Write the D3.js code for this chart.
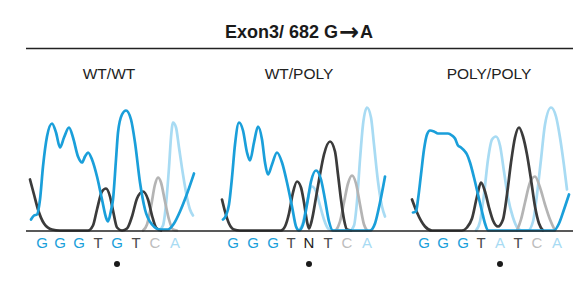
<!DOCTYPE html>
<html>
<head>
<meta charset="utf-8">
<script src="https://cdn.jsdelivr.net/npm/d3@7/dist/d3.min.js"></script>
<style>
html,body{margin:0;padding:0;background:#fff;}
svg{display:block;}
</style>
</head>
<body>
<svg id="chart" width="587" height="293"></svg>
<script>
// ---------- DATA ----------
const titleParts = ["Exon3/ 682 G", "\u2192", "A"];
const panelNames = ["WT/WT", "WT/POLY", "POLY/POLY"];
const baseCalls = [
  ["G","G","G","T","G","T","C","A"],
  ["G","G","G","T","N","T","C","A"],
  ["G","G","G","T","A","T","C","A"]
];
// scan position of each called base
const basePos = [
  [16,34,53,72,91,110,129,149],
  [17,37,57,75,93,112,131,151],
  [18,37,57,75,94,112,131,151]
];
const snpIndex = 4;

// traces: [scan position, signal]
const wtwtG = [[5,11],[8,15],[11,16],[14,31],[17,64],[21,94],[26,107],[30,98],[34,83],[38,93],[43,103],[47,93],[52,74],[56,68],[59,74],[62,78],[66,71],[71,54],[76,31],[80,13],[82,9],[85,20],[87,31],[90,71],[92,98],[96,116],[100,120],[105,111],[109,88],[114,48],[119,21],[126,6],[134,1],[142,1],[148,7],[154,19],[160,34],[168,57]];
const wtwtT = [[4,51],[8,36],[12,21],[18,7],[26,1],[34,0],[62,0],[67,5],[71,21],[76,39],[80,42],[84,34],[87,20],[91,3],[96,0],[101,2],[106,14],[111,32],[117,39],[122,31],[126,15],[130,3],[135,0]];
const wtwtC = [[117,0],[121,6],[125,24],[129,46],[132,53],[135,48],[139,29],[143,11],[147,1],[151,0]];
const wtwtA = [[133,0],[137,5],[140,26],[143,63],[145,93],[147,108],[150,103],[153,83],[157,56],[161,33],[164,21],[167,15]];

const wtpolyG = [[7,11],[10,15],[13,26],[16,53],[19,86],[23,108],[27,100],[31,78],[34,70],[38,88],[42,104],[46,91],[49,68],[52,56],[56,66],[61,78],[66,68],[71,48],[76,24],[80,4],[83,0],[87,6],[91,26],[95,49],[100,60],[105,51],[109,31],[113,9],[117,0],[154,0],[159,7],[164,28],[169,54]];
const wtpolyT = [[6,31],[9,19],[13,7],[18,1],[24,0],[65,0],[69,4],[73,17],[77,38],[81,49],[85,43],[88,28],[91,9],[93,2],[96,11],[100,33],[104,56],[108,76],[114,89],[119,79],[122,56],[125,31],[128,11],[131,1],[135,0]];
const wtpolyC = [[120,0],[124,9],[128,28],[132,47],[136,55],[140,47],[144,26],[148,6],[151,0]];
const wtpolyA = [[83,0],[87,8],[91,28],[96,44],[100,39],[104,25],[108,11],[112,2],[116,0],[134,0],[138,5],[141,29],[144,71],[147,106],[151,123],[155,113],[158,86],[162,49],[166,24],[169,14]];

const polyG = [[7,18],[10,19],[12,31],[15,56],[18,81],[21,96],[24,100],[28,99],[32,97],[37,97],[42,97],[46,95],[49,92],[52,85],[55,83],[59,79],[61,76],[64,68],[68,53],[72,36],[76,19],[79,7],[82,0],[148,0],[153,7],[158,21],[163,36]];
const polyT = [[6,31],[11,18],[19,4],[26,0],[56,0],[61,3],[66,12],[71,34],[75,48],[79,39],[83,23],[87,10],[92,4],[97,11],[101,36],[105,68],[109,93],[113,103],[117,94],[121,76],[125,51],[129,24],[133,7],[137,0]];
const polyC = [[111,0],[115,11],[119,28],[124,48],[129,54],[134,43],[139,26],[144,11],[149,0]];
const polyA = [[70,0],[74,9],[78,36],[82,71],[86,91],[90,94],[94,85],[98,59],[102,33],[107,13],[112,2],[116,0],[122,0],[127,9],[131,36],[135,71],[139,106],[145,123],[150,114],[154,93],[158,65],[161,41]];

const traces = [
  {A: wtwtA, C: wtwtC, T: wtwtT, G: wtwtG},
  {A: wtpolyA, C: wtpolyC, T: wtpolyT, G: wtpolyG},
  {A: polyA, C: polyC, T: polyT, G: polyG}
];

// ---------- STYLE / LAYOUT ----------
const colors = {G: "#1a9fda", A: "#a8dbf3", T: "#3b3b3b", C: "#b4b4b4", N: "#222222"};
const letterColors = {G: "#1a9fda", A: "#a8dbf3", T: "#4a4a4a", C: "#bdbdbd", N: "#222222"};
const panelLeft = [26, 216, 406];
const baseY = 231;

const svg = d3.select("#chart");
const font = "'Liberation Sans', Arial, Helvetica, sans-serif";

// title
const t = svg.append("text")
  .attr("x", 299).attr("y", 38)
  .attr("text-anchor", "middle")
  .attr("font-family", font)
  .attr("font-weight", "bold")
  .attr("font-size", 18)
  .attr("fill", "#1a1a1a");
t.append("tspan").text(titleParts[0]);
t.append("tspan")
  .attr("font-family", "'DejaVu Sans', sans-serif")
  .attr("font-size", 24)
  .attr("dy", 1.5)
  .attr("dx", 1)
  .text(titleParts[1]);
t.append("tspan")
  .attr("dy", -1.5)
  .attr("dx", 1)
  .text(titleParts[2]);

// rule
svg.append("line")
  .attr("x1", 26).attr("x2", 573).attr("y1", 48.5).attr("y2", 48.5)
  .attr("stroke", "#222").attr("stroke-width", 1.3);

const y = d3.scaleLinear().domain([0, 125]).range([baseY - 0.5, baseY - 125.5]);

const order = ["A", "C", "T", "G"];

panelNames.forEach((name, p) => {
  const x = d3.scaleLinear().domain([0, 170]).range([panelLeft[p], panelLeft[p] + 170]);
  const g = svg.append("g");

  g.append("text")
    .attr("x", x(83)).attr("y", 79)
    .attr("text-anchor", "middle")
    .attr("font-family", font)
    .attr("font-size", 15.5)
    .attr("fill", "#222")
    .text(name);

  const line = d3.line()
    .x(d => x(d[0]))
    .y(d => y(d[1]))
    .curve(d3.curveMonotoneX);

  order.forEach(k => {
    g.append("path")
      .datum(traces[p][k])
      .attr("d", line)
      .attr("fill", "none")
      .attr("stroke", colors[k])
      .attr("stroke-width", 2.7)
      .attr("stroke-linejoin", "round")
      .attr("stroke-linecap", "round");
  });

  g.selectAll("text.base")
    .data(baseCalls[p])
    .enter().append("text")
    .attr("class", "base")
    .attr("x", (d, i) => x(basePos[p][i]))
    .attr("y", 248)
    .attr("text-anchor", "middle")
    .attr("font-family", font)
    .attr("font-size", 15)
    .attr("fill", d => letterColors[d])
    .text(d => d);

  g.append("circle")
    .attr("cx", x(basePos[p][snpIndex]))
    .attr("cy", 264)
    .attr("r", 3)
    .attr("fill", "#1a1a1a");
});

// baseline
svg.append("line")
  .attr("x1", 26).attr("x2", 573).attr("y1", baseY).attr("y2", baseY)
  .attr("stroke", "#222").attr("stroke-width", 1.3);
</script>
</body>
</html>
